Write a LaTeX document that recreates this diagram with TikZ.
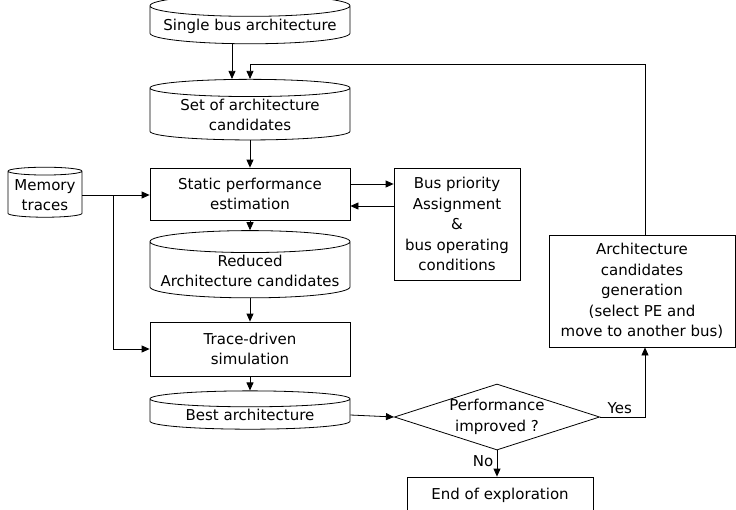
\documentclass[tikz,border=0pt]{standalone}
\usepackage{fontspec}
\setmainfont{DejaVu Sans}
\usetikzlibrary{shapes.geometric,arrows.meta,positioning}

\tikzset{
  blk/.style={draw, line width=0.8pt, align=center, inner sep=2pt,
    font=\fontsize{15}{20.5}\selectfont},
  proc/.style={blk, rectangle},
  store/.style={blk, cylinder, shape border rotate=90, aspect=0.12},
  test/.style={blk, diamond, aspect=3.15, inner sep=0pt},
  flow/.style={-{Triangle[length=8pt,width=7pt]}, line width=0.8pt},
  lbl/.style={font=\fontsize{15}{18}\selectfont}
}

\begin{document}
\begin{tikzpicture}[x=1pt,y=-1pt]
  \useasboundingbox (0,0) rectangle (736,509);

  % main column
  \node[store, minimum width=200pt, minimum height=40pt] (single) at (250,26) {Single bus architecture};
  \node[store, minimum width=200pt, minimum height=56pt] (cands) at (250,115) {Set of architecture\\candidates};
  \node[proc, minimum width=200pt, minimum height=52pt] (static) at (250,194) {Static performance\\estimation};
  \node[store, minimum width=200pt, minimum height=57pt] (reduced) at (250,271) {Reduced\\Architecture candidates};
  \node[proc, minimum width=200pt, minimum height=54pt] (trace) at (250,349) {Trace-driven\\simulation};
  \node[store, minimum width=200pt, minimum height=35pt] (best) at (250,415) {Best architecture};

  % side blocks
  \node[store, minimum width=74pt, minimum height=50pt] (mem) at (45,195) {Memory\\traces};
  \node[proc, minimum width=126pt, minimum height=112pt] (bus) at (457,224) {Bus priority\\Assignment\\\&\\bus operating\\conditions};
  \node[proc, minimum width=186pt, minimum height=112pt] (gen) at (642,291) {Architecture\\candidates\\generation\\(select PE and\\move to another bus)};
  \node[test, minimum width=205pt, minimum height=66pt] (perf) at (497,417) {Performance\\improved ?};
  \node[proc, minimum width=186pt, minimum height=36pt] (stop) at (500,495) {End of exploration};

  \coordinate (split) at (113,195);
  \coordinate (loop) at (645,64);

  \draw[flow] ([xshift=-18pt]single.south) -- ([xshift=-18pt]cands.north);
  \draw[flow] (gen.north -| loop) -- (loop) -| (cands.north);
  \draw[flow] (cands.south) -- (static.north);
  \draw[flow] (static.south) -- (reduced.north);
  \draw[flow] (reduced.south) -- (trace.north);
  \draw[flow] (trace.south) -- (best.north);
  \draw[flow] (mem.east |- split) -- (static.west |- split);
  \draw[flow] (split) |- (trace.west);
  \draw[flow] ([yshift=10pt]static.east) -- ([yshift=10pt]static.east -| bus.west);
  \draw[flow] ([yshift=-12pt]static.east -| bus.west) -- ([yshift=-12pt]static.east);
  \draw[flow] (best.east) -- (perf.west);
  \draw[flow] (perf.east) -| (gen.south -| loop) node[lbl, pos=0.22, above] {Yes};
  \draw[flow] (perf.south) -- (perf.south |- stop.north) node[lbl, pos=0.4, left] {No};
\end{tikzpicture}
\end{document}
